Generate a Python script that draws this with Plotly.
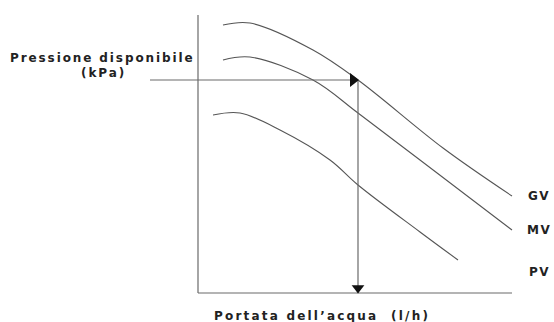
import plotly.graph_objects as go

# Pump curves: available pressure vs water flow, one per speed setting
speeds = ["GV", "MV", "PV"]
flow_gv = [25, 52, 115, 160, 245, 314]
pres_gv = [268, 270, 243, 213, 145, 97]
flow_mv = [25, 52, 115, 160, 222, 314]
pres_mv = [233, 236, 213, 180, 133, 63]
flow_pv = [15, 42, 82, 132, 160, 222, 260]
pres_pv = [178, 180, 163, 133, 108, 61, 33]

# Reading the operating point: from the pressure axis to the GV curve, then down to the flow axis
duty_flow = 160
duty_pres = 213
lead_start = -48

# Axis extents
axis_top = 278
axis_right = 314

LINE = "#555555"
AXIS = "#6a6a6a"
FONT = dict(family="DejaVu Sans", size=12, color="#222222")


def spaced(text, px):
    return '<span style="letter-spacing:%.1fpx"><b>%s</b></span>' % (px, text)


fig = go.Figure()

# Axes
fig.add_trace(go.Scatter(x=[0, 0], y=[axis_top, 0], mode="lines",
                         line=dict(color=AXIS, width=1.2), hoverinfo="skip"))
fig.add_trace(go.Scatter(x=[0, axis_right], y=[0, 0], mode="lines",
                         line=dict(color=AXIS, width=1.2), hoverinfo="skip"))

# Curves
for fx, py in [(flow_gv, pres_gv), (flow_mv, pres_mv), (flow_pv, pres_pv)]:
    fig.add_trace(go.Scatter(x=fx, y=py, mode="lines", line_shape="spline",
                             line=dict(color=LINE, width=1.1), hoverinfo="skip"))

# Reading lines with arrowheads
fig.add_trace(go.Scatter(x=[lead_start, duty_flow], y=[duty_pres, duty_pres], mode="lines",
                         line=dict(color=AXIS, width=1.2), hoverinfo="skip"))
fig.add_trace(go.Scatter(x=[duty_flow, duty_flow], y=[duty_pres, 0], mode="lines",
                         line=dict(color=AXIS, width=1.2), hoverinfo="skip"))
fig.add_trace(go.Scatter(x=[duty_flow - 5], y=[duty_pres], mode="markers",
                         marker=dict(symbol="triangle-right", size=12, color="#111111"),
                         hoverinfo="skip"))
fig.add_trace(go.Scatter(x=[duty_flow], y=[5], mode="markers",
                         marker=dict(symbol="triangle-down", size=11, color="#111111"),
                         hoverinfo="skip"))

# Curve labels at the right
label_y = [pres_gv[-1], pres_mv[-1], 21]
for name, ly in zip(speeds, label_y):
    fig.add_annotation(x=341, y=ly, text=spaced(name, 1.5), showarrow=False,
                       font=FONT, xanchor="center", yanchor="middle")

# Axis titles
fig.add_annotation(x=-96, y=235, text=spaced("Pressione disponibile", 1.9), showarrow=False,
                   font=FONT, xanchor="center", yanchor="middle")
fig.add_annotation(x=-95, y=220, text=spaced("(kPa)", 1.9), showarrow=False,
                   font=FONT, xanchor="center", yanchor="middle")
fig.add_annotation(x=124, y=-23, text=spaced("Portata dell\u2019acqua&nbsp;&nbsp;(l/h)", 2.2),
                   showarrow=False, font=FONT, xanchor="center", yanchor="middle")

fig.update_layout(
    width=554, height=322,
    margin=dict(l=0, r=0, t=0, b=0),
    paper_bgcolor="white", plot_bgcolor="white",
    showlegend=False,
    xaxis=dict(range=[-198, 356], visible=False, fixedrange=True),
    yaxis=dict(range=[-29, 293], visible=False, fixedrange=True),
)

fig.write_html("out.html")
